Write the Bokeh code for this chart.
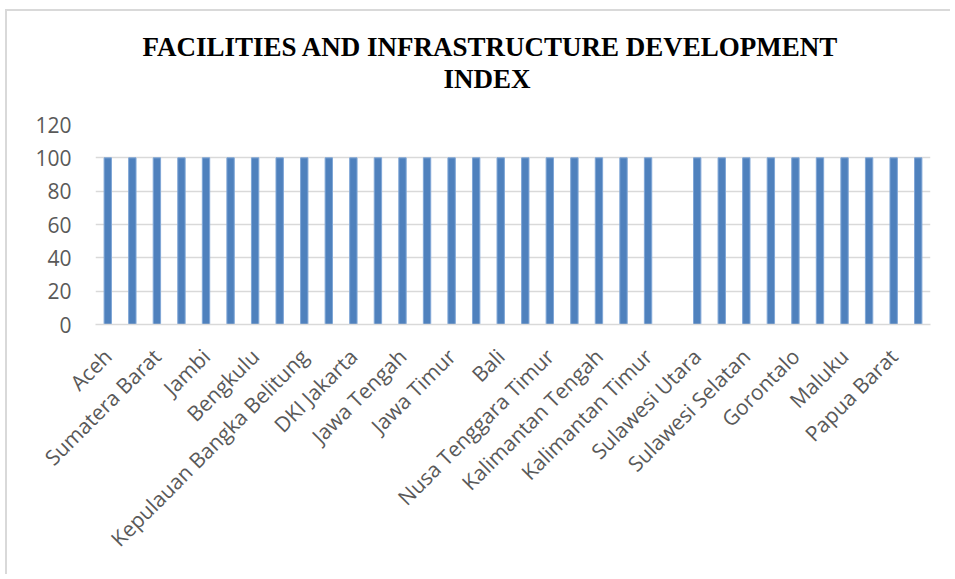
from bokeh.plotting import figure
from bokeh.models import FixedTicker, Title, ColumnDataSource, Range1d
from bokeh.embed import file_html
from bokeh.resources import INLINE
import math

provinces = [
    "Aceh", "Sumatera Utara", "Sumatera Barat", "Riau", "Jambi", "Sumatera Selatan",
    "Bengkulu", "Lampung", "Kepulauan Bangka Belitung", "Kepulauan Riau", "DKI Jakarta",
    "Jawa Barat", "Jawa Tengah", "DI Yogyakarta", "Jawa Timur", "Banten", "Bali",
    "Nusa Tenggara Barat", "Nusa Tenggara Timur", "Kalimantan Barat", "Kalimantan Tengah",
    "Kalimantan Selatan", "Kalimantan Timur", "Kalimantan Utara", "Sulawesi Utara",
    "Sulawesi Tengah", "Sulawesi Selatan", "Sulawesi Tenggara", "Gorontalo",
    "Sulawesi Barat", "Maluku", "Maluku Utara", "Papua Barat", "Papua",
]
index_values = [
    100, 100, 100, 100, 100, 100, 100, 100, 100, 100, 100,
    100, 100, 100, 100, 100, 100, 100, 100, 100, 100, 100,
    100, 0, 100, 100, 100, 100, 100, 100, 100, 100, 100, 100,
]
y_ticks = [0, 20, 40, 60, 80, 100, 120]
title_line1 = "FACILITIES AND INFRASTRUCTURE DEVELOPMENT"
title_line2 = "INDEX"

positions = list(range(len(provinces)))
src = ColumnDataSource(dict(x=positions, top=index_values, name=provinces))

p = figure(
    width=945, height=565, output_backend="svg", toolbar_location=None,
    x_range=Range1d(-0.5, len(provinces) - 0.5), y_range=Range1d(0, 120),
    min_border_left=88, min_border_right=22, min_border_top=113, min_border_bottom=252,
)
p.styles = {"border-left": "2px solid #d9d9d9", "border-top": "2px solid #d9d9d9",
            "margin-left": "5px", "margin-top": "9px"}
p.outline_line_color = None
p.background_fill_color = "white"
p.border_fill_color = "white"

p.vbar(x="x", top="top", width=0.3, source=src, fill_color="#4f81bd",
       line_color="#7fa6d6", line_width=1)

# Titles (added inner first); a blank spacer keeps the gap above the plot area
spacer = Title(text=" ", text_font="Liberation Serif", text_font_size="26px", standoff=0)
t2 = Title(text=title_line2, align="left", text_font="Liberation Serif",
           text_font_size="27px", text_font_style="bold", text_color="black",
           offset=348, standoff=0)
t1 = Title(text=title_line1, align="left", text_font="Liberation Serif",
           text_font_size="27px", text_font_style="bold", text_color="black",
           offset=47, standoff=0)
p.add_layout(spacer, "above")
p.add_layout(t2, "above")
p.add_layout(t1, "above")

# y axis
p.yaxis.ticker = FixedTicker(ticks=y_ticks)
p.yaxis.axis_line_color = None
p.yaxis.major_tick_line_color = None
p.yaxis.minor_tick_line_color = None
p.yaxis.major_tick_out = 0
p.yaxis.major_tick_in = 0
p.yaxis.major_label_standoff = 24
p.yaxis.major_label_text_font = "Open Sans"
p.yaxis.major_label_text_font_size = "21px"
p.yaxis.major_label_text_color = "#595959"

# x axis: every other province labelled
labelled = positions[::2]
p.xaxis.ticker = FixedTicker(ticks=labelled)
p.xaxis.major_label_overrides = {i: provinces[i] for i in labelled}
p.xaxis.major_label_orientation = math.pi / 4
p.xaxis.axis_line_color = "#d9d9d9"
p.xaxis.axis_line_width = 1.5
p.xaxis.major_tick_line_color = None
p.xaxis.minor_tick_line_color = None
p.xaxis.major_tick_out = 0
p.xaxis.major_tick_in = 0
p.xaxis.major_label_standoff = 28
p.xaxis.major_label_text_font = "Open Sans"
p.xaxis.major_label_text_font_size = "21px"
p.xaxis.major_label_text_color = "#595959"

p.xgrid.grid_line_color = None
p.ygrid.ticker = FixedTicker(ticks=y_ticks)
p.ygrid.grid_line_color = "#d9d9d9"
p.ygrid.grid_line_width = 1.5

open("out.html", "w").write(file_html(p, INLINE))
